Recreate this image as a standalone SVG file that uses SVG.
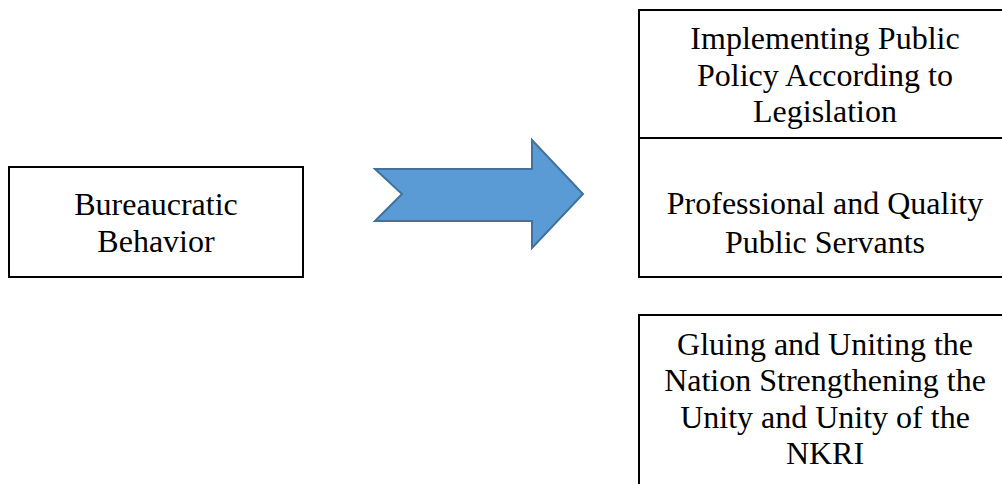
<svg xmlns="http://www.w3.org/2000/svg" width="1002" height="484" viewBox="0 0 1002 484">
<style>
.box{fill:#ffffff;stroke:#000000;stroke-width:2}
.t{font-family:"Liberation Serif","Times New Roman",serif;font-size:32px;fill:#000000;text-anchor:middle}
</style>
<rect x="0" y="0" width="1002" height="484" fill="#ffffff"/>
<g id="connectors">
<polygon points="375,169 532,169 532,140 583,194 532,248 532,221 375,221 402,194" fill="#5B9BD5" stroke="#41719C" stroke-width="2" stroke-linejoin="miter"/>
</g>
<g id="node-bureaucratic">
<rect class="box" x="9" y="167" width="294" height="110"/>
<text class="t" x="156" y="215">Bureaucratic</text>
<text class="t" x="156" y="252">Behavior</text>
</g>
<g id="node-implementing">
<rect class="box" x="639" y="10" width="372" height="128"/>
<text class="t" x="825" y="49">Implementing Public</text>
<text class="t" x="825" y="86">Policy According to</text>
<text class="t" x="825" y="122">Legislation</text>
</g>
<g id="node-professional">
<rect class="box" x="639" y="138" width="372" height="139"/>
<text class="t" x="825" y="214">Professional and Quality</text>
<text class="t" x="825" y="253">Public Servants</text>
</g>
<g id="node-gluing">
<rect class="box" x="639" y="315" width="372" height="180"/>
<text class="t" x="825" y="355">Gluing and Uniting the</text>
<text class="t" x="825" y="391">Nation Strengthening the</text>
<text class="t" x="825" y="428">Unity and Unity of the</text>
<text class="t" x="825" y="464">NKRI</text>
</g>
</svg>
